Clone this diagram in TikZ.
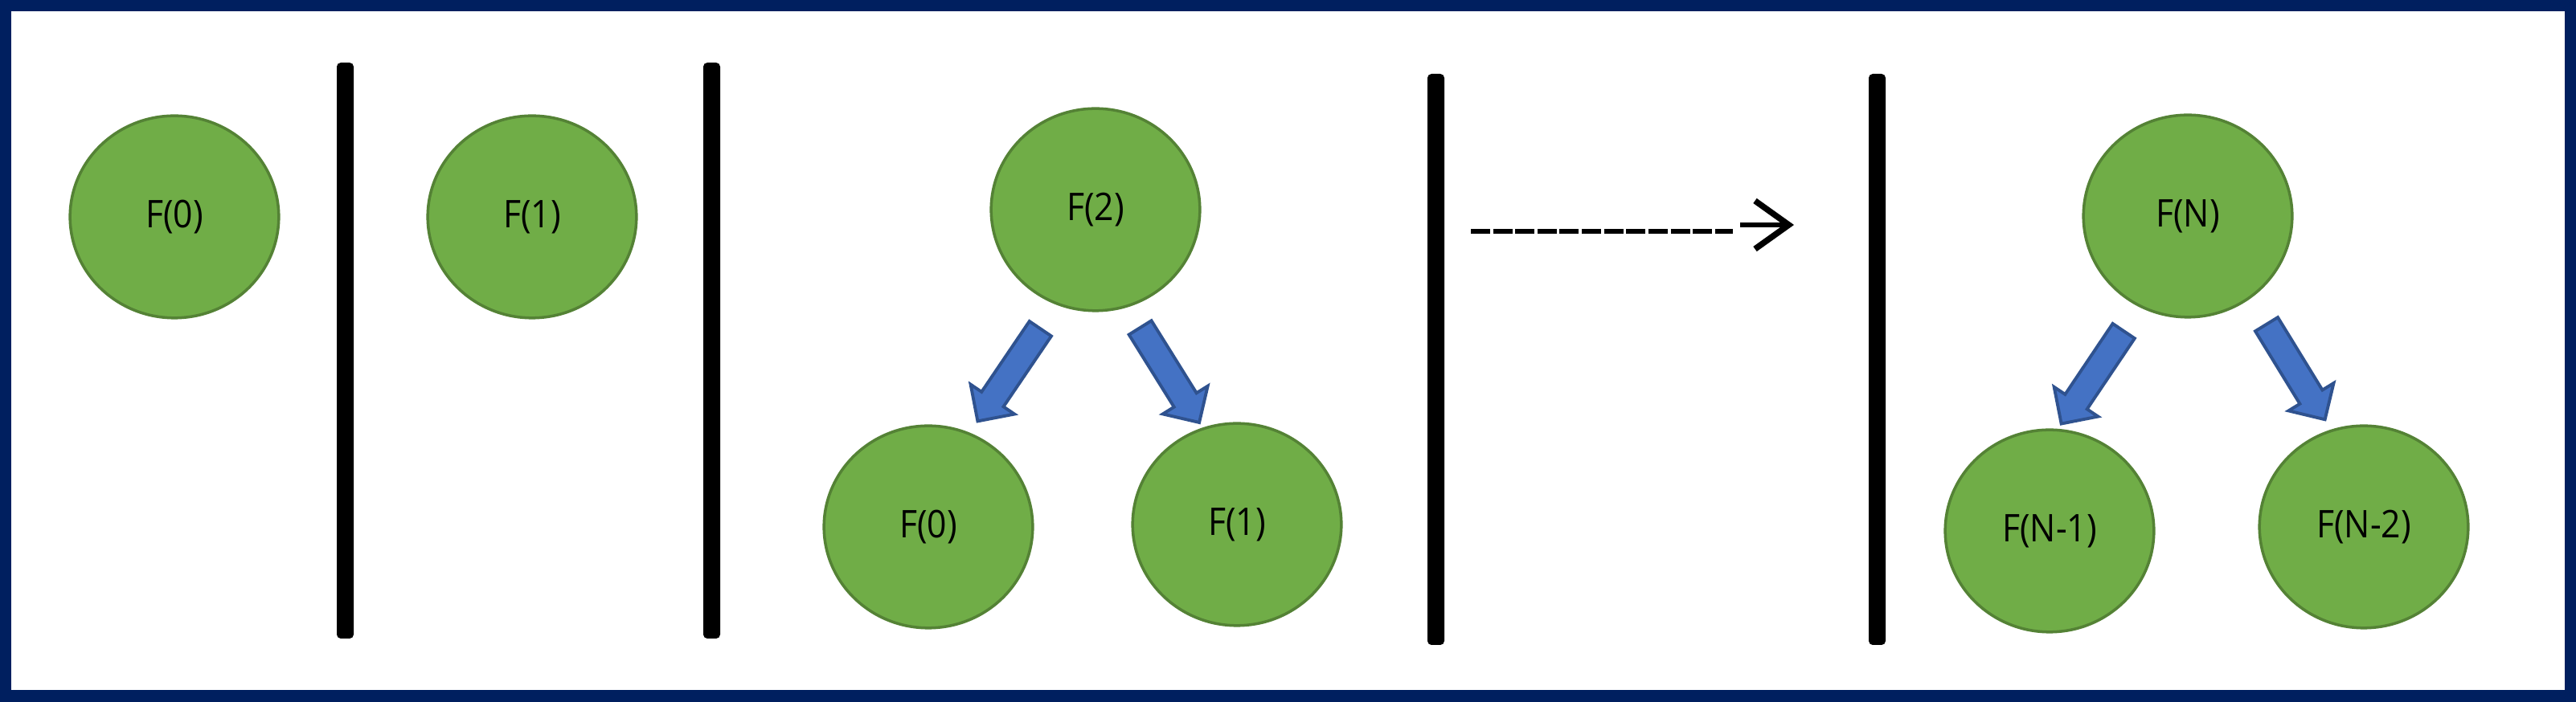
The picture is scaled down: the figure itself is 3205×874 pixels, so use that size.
\documentclass[tikz,border=0pt]{standalone}
\usepackage{fontspec}
\setmainfont[FakeStretch=0.9]{Open Sans}
\usepackage{tikz}
\usetikzlibrary{shapes.geometric, shapes.arrows, arrows.meta}
\usepackage{xcolor}
\definecolor{framenavy}{HTML}{001F5F}
\definecolor{fibgreen}{HTML}{70AD47}
\definecolor{fibdark}{HTML}{548235}
\definecolor{callblue}{HTML}{4472C4}
\definecolor{calldark}{HTML}{2F528F}

\begin{document}
\begin{tikzpicture}[x=0.01cm, y=-0.01cm]
        \fill [framenavy] (0, 0) rectangle (3205, 874);
        \fill [white] (14, 14) rectangle (3191, 859);
        \tikzset{fnode/.style={ellipse, draw=fibdark, line width=1pt, fill=fibgreen, minimum width=2.595cm, minimum height=2.515cm, inner sep=0pt, font=\fontsize{13.5}{16}\selectfont}};
        \tikzset{callarrow/.style={single arrow, draw=calldark, line width=1.1pt, fill=callblue, inner xsep=0pt, inner ysep=0.145cm, single arrow head extend=0.165cm, minimum height=1.39cm}};
        % base cases
        \node [fnode] (f0) at (217, 270) {F(0)};
        \node [fnode] (f1) at (662, 270) {F(1)};
        % F(2)
        \node [fnode] (f2) at (1363, 261) {F(2)};
        \node [fnode] (f2a) at (1155, 656) {F(0)};
        \node [fnode] (f2b) at (1539, 653) {F(1)};
        \node [callarrow, rotate=-124.1] (c2a) at (1260, 460) {};
        \node [callarrow, rotate=-58.1] (c2b) at (1451, 460) {};
        % F(N)
        \node [fnode] (fn) at (2722, 269) {F(N)};
        \node [fnode] (fna) at (2550, 661) {F(N-1)};
        \node [fnode] (fnb) at (2941, 656) {F(N-2)};
        \node [callarrow, rotate=-123.9] (cna) at (2608, 463) {};
        \node [callarrow, rotate=-58.5] (cnb) at (2852, 456) {};
        % separators
        \fill [black, rounded corners=0.05cm] (419, 78) rectangle (440, 795);
        \fill [black, rounded corners=0.05cm] (875, 78) rectangle (896, 795);
        \fill [black, rounded corners=0.05cm] (1776, 92) rectangle (1797, 803);
        \fill [black, rounded corners=0.05cm] (2325, 92) rectangle (2346, 803);
        % dots to N
        \coordinate (d0) at (1830, 288);
        \coordinate (d1) at (2156, 288);
        \coordinate (s0) at (2165, 280);
        \coordinate (s1) at (2232, 280);
        \draw [line width=0.057cm, dash pattern=on 0.24cm off 0.036cm] (d0) -- (d1);
        \draw [line width=0.06cm, -{Straight Barb[length=0.42cm, width=0.6cm, line width=0.075cm]}] (s0) -- (s1);
    \end{tikzpicture}
\end{document}
